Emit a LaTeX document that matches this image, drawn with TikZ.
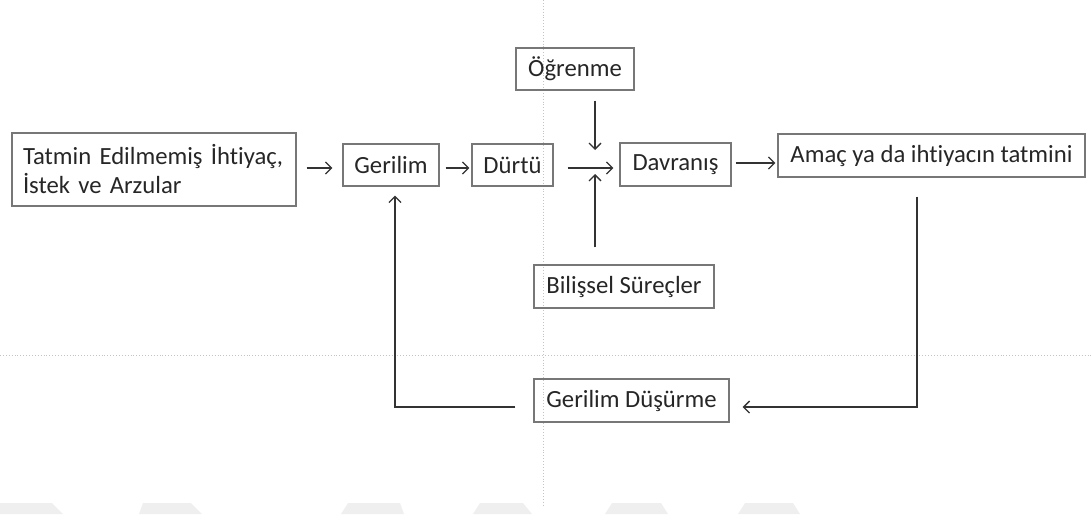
\documentclass[tikz,border=0pt]{standalone}
\usepackage{fontspec}
\setmainfont{Carlito}[Ligatures=NoCommon]
\usetikzlibrary{arrows.meta}
\definecolor{txt}{HTML}{262626}
\definecolor{bord}{HTML}{777777}
\definecolor{ln}{HTML}{333333}
\definecolor{guide}{HTML}{C4C4C4}
\definecolor{wm}{HTML}{EFEFEF}
\begin{document}
\begin{tikzpicture}[x=1pt,y=-1pt,
  box/.style={draw=bord, line width=1.3pt, inner sep=0pt, text=txt, font=\fontsize{24.7}{29}\selectfont},
  arr/.style={draw=ln, line width=1.3pt, -{Straight Barb[length=6pt,width=12pt]}},
  guideline/.style={draw=guide, line width=0.9pt, dotted},
  wmark/.style={fill=wm, draw=none}]
\useasboundingbox (0,0) rectangle (1091,514);
% background guides and watermark
\draw[guideline] (543,0) -- (543,505);
\draw[guideline] (0,355) -- (1091,355);
\fill[wmark] (0,503) -- (52,503) -- (63,514) -- (0,514) -- cycle;
\fill[wmark] (143,503) -- (191,503) -- (202,514) -- (139,514) -- cycle;
\fill[wmark] (348,503) -- (400,503) -- (404,514) -- (341,514) -- cycle;
\fill[wmark] (480,503) -- (523,503) -- (532,514) -- (473,514) -- cycle;
\fill[wmark] (612,503) -- (661,503) -- (668,514) -- (605,514) -- cycle;
\fill[wmark] (745,503) -- (793,503) -- (800,514) -- (738,514) -- cycle;
% nodes
\node[box, minimum width=284pt, minimum height=73pt, text width=262pt, align=left] (tatmin) at (154,169.5) {Tatmin Edilmemiş İhtiyaç,\\İstek ve Arzular};
\node[box, minimum width=96pt, minimum height=42pt] (gerilim) at (391,165) {Gerilim};
\node[box, minimum width=81pt, minimum height=42pt] (durtu) at (512.5,165) {Dürtü};
\node[box, minimum width=111pt, minimum height=43pt] (davranis) at (675.5,164.5) {Davranış};
\node[box, minimum width=307pt, minimum height=43pt] (amac) at (931.5,155.5) {Amaç ya da ihtiyacın tatmini};
\node[box, minimum width=118pt, minimum height=42pt] (ogrenme) at (575,69) {Öğrenme};
\node[box, minimum width=180pt, minimum height=43pt] (bilissel) at (624,286.5) {Bilişsel Süreçler};
\node[box, minimum width=195pt, minimum height=43pt] (dusurme) at (631.5,400.5) {Gerilim Düşürme};
% helper coordinates
\coordinate (row) at (0,168);
\coordinate (row2) at (0,163);
\coordinate (meet) at (595,168);
\coordinate (c1) at (917,407);
\coordinate (c2) at (395,407);
% connectors
\draw[arr, shorten <=10pt, shorten >=10pt] (tatmin.east |- row) -- (gerilim.west |- row);
\draw[arr, shorten <=6pt, shorten >=2pt] (gerilim.east |- row) -- (durtu.west |- row);
\draw[arr, shorten <=14pt, shorten >=6pt] (durtu.east |- row) -- (davranis.west |- row);
\draw[arr, shorten <=10pt, shorten >=18pt] (ogrenme.south -| meet) -- (meet);
\draw[arr, shorten <=17pt, shorten >=6pt] (bilissel.north -| meet) -- (meet);
\draw[arr, shorten <=4pt, shorten >=2pt] (davranis.east |- row2) -- (amac.west |- row2);
\draw[arr, shorten <=19pt, shorten >=13pt] (amac.south -| c1) -- (c1) -- (dusurme.east |- c1);
\draw[arr, shorten <=18pt, shorten >=9pt] (dusurme.west |- c2) -- (c2) -- (gerilim.south -| c2);
\end{tikzpicture}
\end{document}
